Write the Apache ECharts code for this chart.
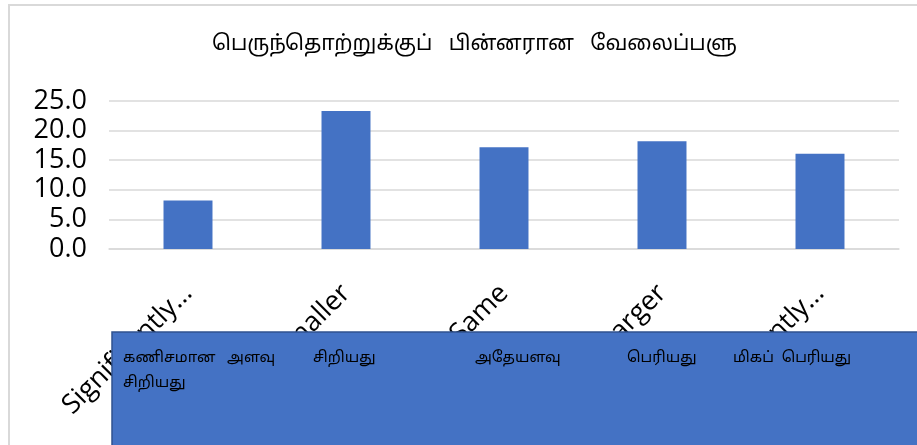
<!DOCTYPE html>
<html>
<head>
<meta charset="utf-8">
<script src="https://cdn.jsdelivr.net/npm/echarts@6/dist/echarts.min.js"></script>
<style>
html,body{margin:0;padding:0;background:#fff;}
#chart{width:917px;height:445px;}
</style>
</head>
<body>
<div id="chart"></div>
<script>
const titleText = 'பெருந்தொற்றுக்குப்   பின்னரான   வேலைப்பளு';
const categories = ['Significantly…', 'Smaller', 'Same', 'Larger', 'Significantly…'];
const values = [8.2, 23.3, 17.2, 18.2, 16.1];
const tamilLabels = ['கணிசமான   அளவு\nசிறியது', 'சிறியது', 'அதேயளவு', 'பெரியது', 'மிகப்  பெரியது'];
const yMin = 0, yMax = 25, yStep = 5;

const tamilFont = '"Noto Sans Tamil", "Latha", "Noto Sans", sans-serif';
const labelX = [123, 313, 475, 627, 733];

const chart = echarts.init(document.getElementById('chart'), null, {renderer: 'canvas'});
const graphics = [
  {type: 'rect', z: -10, shape: {x: 9, y: 5, width: 930, height: 460},
   style: {fill: '#fff', stroke: '#d9d9d9', lineWidth: 2}},
  {type: 'rect', z: 100, shape: {x: 112, y: 332, width: 820, height: 130},
   style: {fill: '#4472C4', stroke: '#2F528F', lineWidth: 1.5}}
];
tamilLabels.forEach((t, i) => {
  graphics.push({type: 'text', z: 101, x: labelX[i], y: 346,
    style: {text: t, fill: '#000', font: '15px ' + tamilFont, lineHeight: 25}});
});

chart.setOption({
  animation: false,
  title: {
    text: titleText, left: 207, top: 30,
    textStyle: {fontFamily: tamilFont, fontWeight: 'normal', fontSize: 21, color: '#000'}
  },
  grid: {left: 109, right: 18, top: 101, bottom: 196, containLabel: false},
  xAxis: {
    type: 'category', data: categories,
    axisLine: {lineStyle: {color: '#d9d9d9', width: 1.5}},
    axisTick: {show: false},
    axisLabel: {rotate: 45, interval: 0, margin: 40, fontSize: 27, color: '#000', fontFamily: '"Open Sans", sans-serif'}
  },
  yAxis: {
    type: 'value', min: yMin, max: yMax, interval: yStep,
    axisLine: {show: false}, axisTick: {show: false},
    splitLine: {lineStyle: {color: '#d9d9d9', width: 1.5}},
    axisLabel: {margin: 22, fontSize: 27, color: '#000', fontFamily: '"Open Sans", sans-serif',
      formatter: v => v.toFixed(1)}
  },
  series: [{type: 'bar', data: values, barWidth: '31%', itemStyle: {color: '#4472C4'}}],
  graphic: graphics
});
</script>
</body>
</html>
